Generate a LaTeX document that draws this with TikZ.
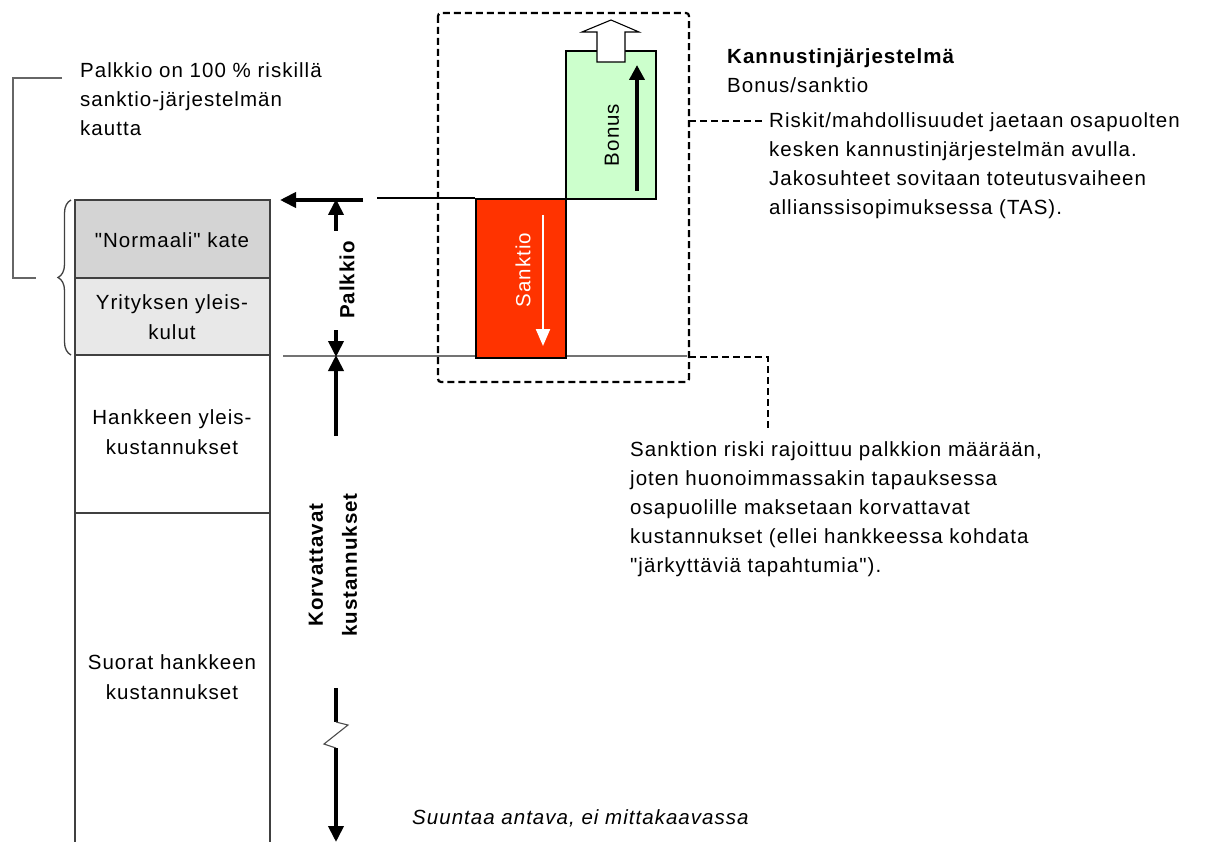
\documentclass[tikz,border=0pt]{standalone}
\usepackage{fontspec}
\setmainfont{Liberation Sans}[LetterSpace=5, Ligatures=TeXOff]
\usetikzlibrary{arrows.meta,decorations.pathreplacing}
\newcommand{\qq}{\symbol{34}}
\begin{document}
\begin{tikzpicture}[x=1pt,y=-1pt,
  txt/.style={font=\fontsize{20.5}{29}\selectfont, inner sep=0pt, align=left},
  lbl/.style={font=\fontsize{20.5}{30}\selectfont, inner sep=0pt, align=center},
  col/.style={draw=black!75, line width=1.5pt},
  dim/.style={line width=3.8pt, -{Triangle[length=16pt,width=15pt]}},
  dsh/.style={dash pattern=on 7pt off 4pt, line width=2.2pt}]
\useasboundingbox (0,0) rectangle (1206,842);
% left column
\fill[black!17] (75,200) rectangle (270,278);
\fill[black!9] (75,278) rectangle (270,355);
\draw[col] (75,842) -- (75,200) -- (270,200) -- (270,842);
\draw[col] (75,278) -- (270,278);
\draw[col] (75,355) -- (270,355);
\draw[col] (75,513) -- (270,513);
\node[lbl] (kate) at (172,240) {\qq Normaali\qq{} kate};
\node[lbl] (yleis) at (172,317) {Yrityksen yleis-\\kulut};
\node[lbl] (hank) at (172,432) {Hankkeen yleis-\\kustannukset};
\node[lbl] (suor) at (172,677) {Suorat hankkeen\\kustannukset};
% brace and bracket
\draw[black!75, line width=1.3pt, decorate, decoration={brace, amplitude=13pt, aspect=0.5}] (71,355) -- (71,200);
\draw[black!60, line width=1.8pt] (62,78) -- (13,78) -- (13,278) -- (36,278);
\node[txt, anchor=north west] (pk) at (80,62) {Palkkio on 100 \% riskillä\\sanktio-järjestelmän\\kautta};
% level lines
\draw[black!55, line width=1.8pt] (283,356) -- (687,356);
\draw[black, line width=1.2pt] (377,198) -- (475,198);
% red and green boxes
\node[draw=black, line width=2.2pt, fill={rgb,255:red,255;green,51;blue,0}, minimum width=90pt, minimum height=159pt, inner sep=0pt, anchor=north west] (sank) at (475,198) {};
\node[draw=black, line width=2.2pt, fill={rgb,255:red,204;green,255;blue,204}, minimum width=90pt, minimum height=148pt, inner sep=0pt, anchor=north west] (bon) at (565,50) {};
\coordinate (sa1) at (543,215);
\coordinate (sa2) at (543,346);
\draw[white, line width=2.2pt, -{Triangle[length=17pt,width=14pt]}] (sa1) -- (sa2);
\node[lbl, text=white, rotate=90] (sanktxt) at (523,270) {Sanktio};
\coordinate (ba1) at (637,191);
\coordinate (ba2) at (637,65);
\draw[black, line width=3.8pt, -{Triangle[length=15pt,width=15pt]}] (ba1) -- (ba2);
\node[lbl, rotate=90] (bontxt) at (612,135) {Bonus};
\draw[black, line width=1.1pt, fill=white] (597,62) -- (597,32) -- (582,32) -- (611,20) -- (639,32) -- (625,32) -- (625,62) -- cycle;
% dashed frame
\draw[dsh, rounded corners=3pt] (438,13) rectangle (689,382);
\coordinate (d1) at (689,121);
\coordinate (d2) at (764,121);
\draw[dsh] (d1) -- (d2);
\coordinate (e1) at (689,357);
\coordinate (e2) at (768,357);
\coordinate (e3) at (768,428);
\draw[dsh] (e1) -- (e2) -- (e3);
% right texts
\node[txt, anchor=north west] (kan) at (727,48) {\textbf{Kannustinjärjestelmä}\\Bonus/sanktio};
\node[txt, anchor=north west] (risk) at (769,112) {Riskit/mahdollisuudet jaetaan osapuolten\\kesken kannustinjärjestelmän avulla.\\Jakosuhteet sovitaan toteutusvaiheen\\allianssisopimuksessa (TAS).};
\node[txt, anchor=north west] (sanr) at (630,441) {Sanktion riski rajoittuu palkkion määrään,\\joten huonoimmassakin tapauksessa\\osapuolille maksetaan korvattavat\\kustannukset (ellei hankkeessa kohdata\\\qq järkyttäviä tapahtumia\qq).};
\node[txt, anchor=west, font=\fontsize{20.5}{29}\selectfont\itshape] (suun) at (412,818) {Suuntaa antava, ei mittakaavassa};
% top arrow to column
\coordinate (t1) at (363,200);
\coordinate (t2) at (280,200);
\draw[dim] (t1) -- (t2);
% Palkkio dimension
\coordinate (p0) at (336,231);
\coordinate (p1) at (336,199);
\coordinate (p2) at (336,330);
\coordinate (p3) at (336,357);
\draw[dim] (p0) -- (p1);
\draw[dim] (p2) -- (p3);
\node[lbl, rotate=90, font=\fontsize{20.5}{29}\selectfont\bfseries] (palk) at (347,280) {Palkkio};
% Korvattavat dimension
\coordinate (k0) at (336,436);
\coordinate (k1) at (336,355);
\draw[dim] (k0) -- (k1);
\coordinate (k2) at (336,688);
\coordinate (k3) at (336,722);
\coordinate (k4) at (336,748);
\coordinate (k5) at (336,842);
\draw[line width=3.8pt] (k2) -- (k3);
\draw[black!70, line width=1.1pt] (k3) -- (348,725) -- (324,744) -- (k4);
\draw[dim] (k4) -- (k5);
\node[lbl, rotate=90, font=\fontsize{20.5}{34}\selectfont\bfseries] (korv) at (333,565) {Korvattavat\\kustannukset};
\end{tikzpicture}
\end{document}
